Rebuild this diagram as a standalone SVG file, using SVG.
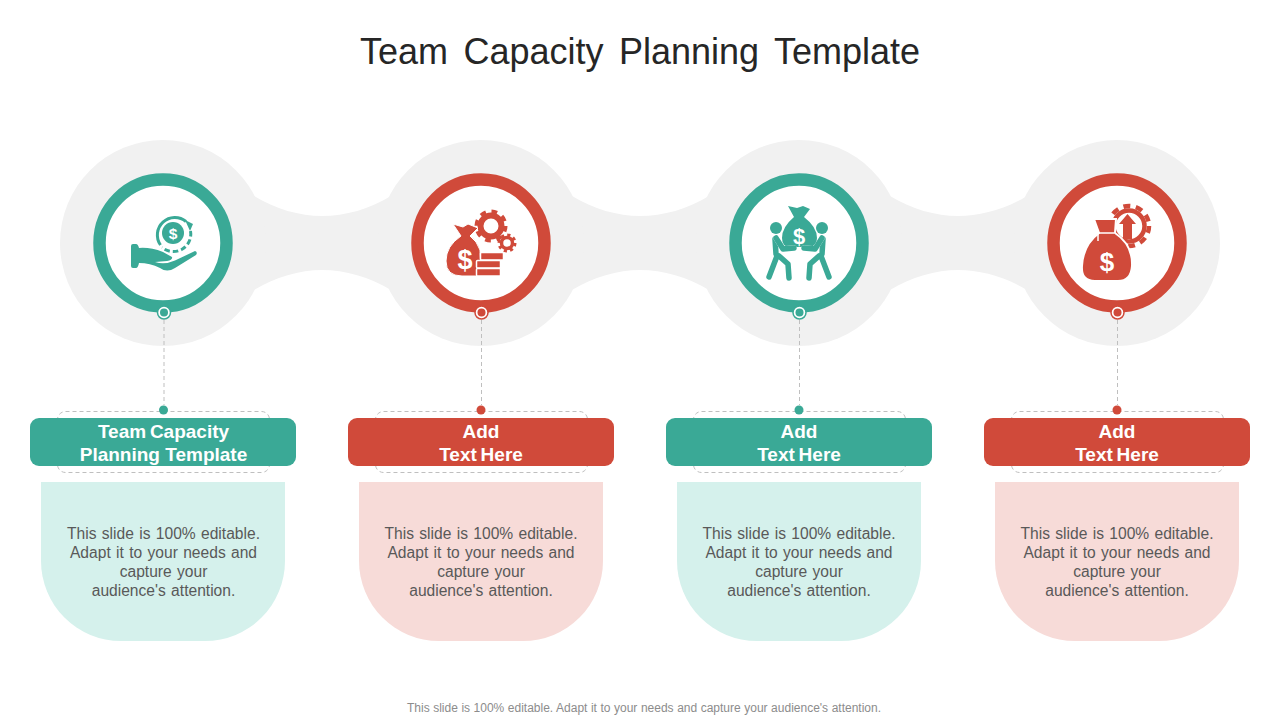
<svg xmlns="http://www.w3.org/2000/svg" width="1280" height="720" viewBox="0 0 1280 720">
<style>
text{font-family:"Liberation Sans",Arial,sans-serif;text-anchor:middle}
.title{font-size:36px;fill:#262626;word-spacing:5.500px}
.foot{font-size:12px;fill:#8c8c8c;word-spacing:.2px}
.head{font-size:19px;font-weight:bold;fill:#fff}
.tight{word-spacing:-1.500px}
.body{font-size:15.600px;fill:#595959;word-spacing:1px}
.bg{fill:#f1f1f1}
.ring{fill:#fff;stroke-width:12.500}
.t .ring{stroke:#3aa996}.r .ring{stroke:#d04a3a}
.t .solid{fill:#3aa996}.r .solid{fill:#d04a3a}
.t .card{fill:#d5f1ec}.r .card{fill:#f7dbd8}
.t .line{stroke:#3aa996}.r .line{stroke:#d04a3a}
.dash{fill:none;stroke:#bfbfbf;stroke-width:1;stroke-dasharray:4 3}
.knob{fill:#fff;stroke-width:1.500}
.t .knob{stroke:#3aa996}.r .knob{stroke:#d04a3a}
.sym{font-weight:bold;fill:#fff}
.limb{fill:none;stroke-linecap:round;stroke-linejoin:round;stroke-width:5.500}
.case{fill:none;stroke:#fff;stroke-width:5.500;stroke-linecap:round;stroke-linejoin:round}
</style>
<text class="title" x="640" y="64">Team Capacity Planning Template</text>
<g id="band" class="bg">
<path d="M254 196C275 209 300 216 322 216C345 216 370 209 391 196V290C370 277 345 270 322 270C300 270 275 277 254 290Z"/>
<path d="M572 196C593 209 618 216 640 216C663 216 688 209 709 196V290C688 277 663 270 640 270C618 270 593 277 572 290Z"/>
<path d="M890 196C911 209 936 216 958 216C981 216 1006 209 1027 196V290C1006 277 981 270 958 270C936 270 911 277 890 290Z"/>
<circle cx="163" cy="243" r="103"/><circle cx="481" cy="243" r="103"/><circle cx="799" cy="243" r="103"/><circle cx="1117" cy="243" r="103"/>
</g>
<g id="connectors">
<path class="dash" d="M164 320V405M481.500 320V405M799.500 320V405M1117.500 320V405"/>
</g>
<g id="node1" class="t">
<circle class="ring" cx="163" cy="243" r="63.500"/>
<circle class="solid" cx="173" cy="233" r="11"/>
<text class="sym" x="173" y="238.500" font-size="15.500">$</text>
<path class="line" fill="none" stroke-width="3" d="M160.500 245A17.500 17.500 0 0 1 186 221.500"/>
<path class="line" fill="none" stroke-width="3" stroke-dasharray="5.500 3" d="M190.500 231A17.500 17.500 0 0 1 162 247.500"/>
<path class="solid" d="M185 220L193 224L190 231Z"/>
<path class="solid" d="M131 246Q131 244 133 244H136Q138 244 139 248Q150 247 163 252L172 257Q173 260 167 261L155 262Q165 265 175 260.500L195 251Q198 252 196 255L175 268Q167 273 160 268Q150 263 139 263Q138 268 136 268H133Q131 268 131 266Z"/>
<circle class="knob" cx="164" cy="312.500" r="6.500"/><circle class="solid" cx="164" cy="312.500" r="4"/>
<rect class="dash" x="57.500" y="411.500" width="212" height="61" rx="8"/>
<circle class="solid" cx="163.500" cy="410" r="4.500"/>
<rect class="solid" x="30" y="418" width="266" height="48" rx="9"/>
<text class="head tight" x="163.500" y="437.500">Team Capacity</text>
<text class="head" x="163.500" y="460.500">Planning Template</text>
<path class="card" d="M41 482H285V561A80 80 0 0 1 205 641H121A80 80 0 0 1 41 561Z"/>
<text class="body" x="163.500" y="539">This slide is 100% editable.</text>
<text class="body" x="163.500" y="558">Adapt it to your needs and</text>
<text class="body" x="163.500" y="577">capture your</text>
<text class="body" x="163.500" y="596">audience's attention.</text>
</g>
<g id="node2" class="r">
<circle class="ring" cx="481" cy="243" r="63.500"/>
<circle class="line" fill="none" stroke-width="6" cx="491" cy="226" r="10.500"/>
<circle class="line" fill="none" stroke-width="4" stroke-dasharray="5.700 5.700" cx="491" cy="226" r="14.500"/>
<circle class="line" fill="none" stroke-width="3.500" cx="507" cy="243" r="5.500"/>
<circle class="line" fill="none" stroke-width="3" stroke-dasharray="3.140 3.140" cx="507" cy="243" r="8"/>
<path class="solid" stroke="#fff" stroke-width="1" d="M453 224L463 227L468 224L478 228L470 236Q477 241 480 250L481 276H462Q446 276 446 261Q446 246 461 236Z"/>
<text class="sym" x="465" y="268.500" font-size="27">$</text>
<g stroke="#fff" stroke-width="1.500">
<rect class="solid" x="480.500" y="252.500" width="23" height="7.500" rx="1"/>
<rect class="solid" x="476.500" y="260.500" width="24" height="7.500" rx="1"/>
<rect class="solid" x="476.500" y="268.500" width="24" height="7.500" rx="1"/>
</g>
<circle class="knob" cx="481.500" cy="312.500" r="6.500"/><circle class="solid" cx="481.500" cy="312.500" r="4"/>
<rect class="dash" x="375.500" y="411.500" width="212" height="61" rx="8"/>
<circle class="solid" cx="481" cy="410" r="4.500"/>
<rect class="solid" x="348" y="418" width="266" height="48" rx="9"/>
<text class="head" x="481" y="437.500">Add</text>
<text class="head tight" x="481" y="460.500">Text Here</text>
<path class="card" d="M359 482H603V561A80 80 0 0 1 523 641H439A80 80 0 0 1 359 561Z"/>
<text class="body" x="481" y="539">This slide is 100% editable.</text>
<text class="body" x="481" y="558">Adapt it to your needs and</text>
<text class="body" x="481" y="577">capture your</text>
<text class="body" x="481" y="596">audience's attention.</text>
</g>
<g id="node3" class="t">
<circle class="ring" cx="799" cy="243" r="63.500"/>
<path class="solid" d="M788 206L797 208L803 206L810 209L804 217Q817 227 817 238Q817 247 808 247H790Q782 247 782 238Q782 227 794 217Z"/>
<text class="sym" x="799" y="243.500" font-size="22">$</text>
<circle class="solid" cx="776" cy="228" r="6"/><circle class="solid" cx="822" cy="228" r="6"/>
<path class="line limb" stroke-width="9" d="M775 239L776 254"/>
<path class="line limb" d="M777 256L769 277M779 256L788 264L789 278"/>
<path class="case" d="M776 238L783 249L794 248"/>
<path class="line limb" stroke-width="3.500" d="M776 238L783 249L794 248"/>
<path class="line limb" stroke-width="9" d="M823 239L822 254"/>
<path class="line limb" d="M821 256L829 277M819 256L810 264L809 278"/>
<path class="case" d="M822 238L815 249L804 248"/>
<path class="line limb" stroke-width="3.500" d="M822 238L815 249L804 248"/>
<circle class="knob" cx="799.500" cy="312.500" r="6.500"/><circle class="solid" cx="799.500" cy="312.500" r="4"/>
<rect class="dash" x="693.500" y="411.500" width="212" height="61" rx="8"/>
<circle class="solid" cx="799" cy="410" r="4.500"/>
<rect class="solid" x="666" y="418" width="266" height="48" rx="9"/>
<text class="head" x="799" y="437.500">Add</text>
<text class="head tight" x="799" y="460.500">Text Here</text>
<path class="card" d="M677 482H921V561A80 80 0 0 1 841 641H757A80 80 0 0 1 677 561Z"/>
<text class="body" x="799" y="539">This slide is 100% editable.</text>
<text class="body" x="799" y="558">Adapt it to your needs and</text>
<text class="body" x="799" y="577">capture your</text>
<text class="body" x="799" y="596">audience's attention.</text>
</g>
<g id="node4" class="r">
<circle class="ring" cx="1117" cy="243" r="63.500"/>
<circle class="line" fill="none" stroke-width="4.500" cx="1129" cy="226" r="15.500"/>
<circle class="line" fill="none" stroke-width="4.500" stroke-dasharray="7 5.570" cx="1129" cy="226" r="20"/>
<path class="solid" d="M1127.500 214L1136 224H1132V239H1123V224H1119Z"/>
<path class="solid" stroke="#fff" stroke-width="2" d="M1094 219H1116L1115 233Q1133 245 1132 266Q1131 281 1118 281H1095Q1081 281 1082 266Q1083 245 1099 233Z"/>
<path fill="none" stroke="#fff" stroke-width="1.500" d="M1098 233H1114M1098 233V241"/>
<text class="sym" x="1107" y="271" font-size="26">$</text>
<circle class="knob" cx="1117.500" cy="312.500" r="6.500"/><circle class="solid" cx="1117.500" cy="312.500" r="4"/>
<rect class="dash" x="1011.500" y="411.500" width="212" height="61" rx="8"/>
<circle class="solid" cx="1117" cy="410" r="4.500"/>
<rect class="solid" x="984" y="418" width="266" height="48" rx="9"/>
<text class="head" x="1117" y="437.500">Add</text>
<text class="head tight" x="1117" y="460.500">Text Here</text>
<path class="card" d="M995 482H1239V561A80 80 0 0 1 1159 641H1075A80 80 0 0 1 995 561Z"/>
<text class="body" x="1117" y="539">This slide is 100% editable.</text>
<text class="body" x="1117" y="558">Adapt it to your needs and</text>
<text class="body" x="1117" y="577">capture your</text>
<text class="body" x="1117" y="596">audience's attention.</text>
</g>
<text class="foot" x="644" y="711.500">This slide is 100% editable. Adapt it to your needs and capture your audience's attention.</text>
</svg>
